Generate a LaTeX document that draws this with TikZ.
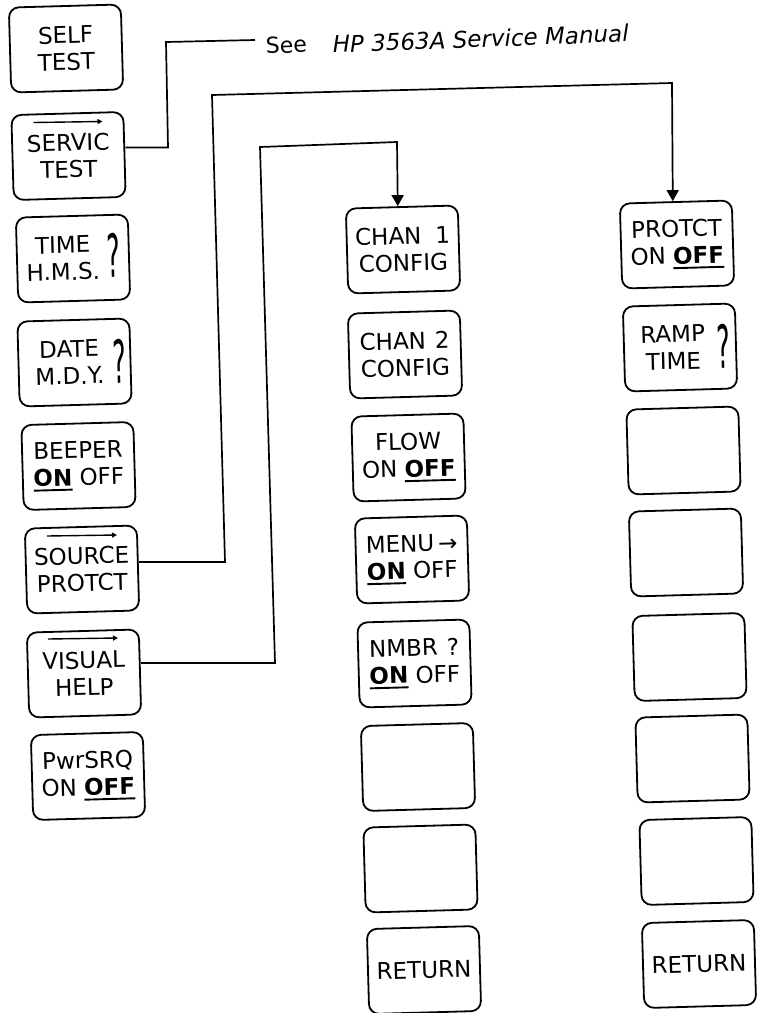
\documentclass[tikz,border=0pt]{standalone}
\usepackage{fontspec}
\usepackage{graphicx}
\setmainfont{DejaVu Sans}
\usetikzlibrary{arrows.meta,calc}
\newsavebox\ulbbox
\newcommand\ulb[1]{\sbox\ulbbox{\bfseries #1}\rlap{\rule[-5pt]{\wd\ulbbox}{1.9pt}}\usebox\ulbbox}
\newcommand\bigq{\scalebox{0.7}[1.65]{\fontsize{36}{36}\selectfont ?}}
\begin{document}
\begin{tikzpicture}[x=1pt,y=1pt,
  btn/.style={draw, line width=1.8pt, rounded corners=10pt, minimum width=112pt,
    minimum height=85pt, rotate=1.6, font=\fontsize{23}{27}\selectfont,
    align=center, inner sep=0pt},
  txt/.style={rotate=1.6, font=\fontsize{23}{27}\selectfont, align=center, inner sep=0pt},
  wire/.style={line width=1.7pt},
  tip/.style={-{Triangle[length=11pt,width=12pt]}},
  mini/.style={line width=1.4pt, -{Triangle[length=5pt,width=5pt]}}]
\useasboundingbox (0,0) rectangle (757,-1013);

% left column
\node[btn] (self)   at (66,-48.5)   {SELF\\TEST};
\node[btn] (servic) at (68.5,-156)  {SERVIC\\TEST};
\node[btn] (time)   at (73,-258.5)  {};
\node[txt] (timet)  at ($(time.center)+(-10,0)$) {TIME\\H.M.S.};
\node[txt] (timeq)  at ($(time.center)+(41,3)$) {\bigq};
\node[btn] (date)   at (74.5,-362.5) {};
\node[txt] (datet)  at ($(date.center)+(-5,0)$) {DATE\\M.D.Y.};
\node[txt] (dateq)  at ($(date.center)+(45,1)$) {\bigq};
\node[btn] (beeper) at (78.5,-466)  {BEEPER\\\ulb{ON} OFF};
\node[btn] (source) at (82,-569.5)  {SOURCE\\PROTCT};
\node[btn] (visual) at (84,-673.5)  {VISUAL\\HELP};
\node[btn] (pwrsrq) at (88,-776)    {PwrSRQ\\ON \ulb{OFF}};

\draw[mini] ($(servic.center)+(-35,33.5)$) -- ($(servic.center)+(34,34.5)$);
\draw[mini] ($(source.center)+(-35,33.5)$) -- ($(source.center)+(35,34.5)$);
\draw[mini] ($(visual.center)+(-36,34.5)$) -- ($(visual.center)+(34,35.5)$);

% middle column
\node[btn] (chan1) at (403,-249.5) {CHAN\hspace{14pt}1\\CONFIG};
\node[btn] (chan2) at (405,-354.5) {CHAN\hspace{9pt}2\\CONFIG};
\node[btn] (flow)  at (408.5,-457.5) {FLOW\\ON \ulb{OFF}};
\node[btn] (menu)  at (412,-559.5) {MENU\,→\\\ulb{ON} OFF};
\node[btn] (nmbr)  at (414.5,-663.5) {NMBR\hspace{9pt}?\\\ulb{ON} OFF};
\node[btn] (m6)    at (418,-767) {};
\node[btn] (m7)    at (420.5,-868.5) {};
\node[btn] (mret)  at (424,-970) {RETURN};

% right column
\node[btn] (protct) at (677,-244.5) {PROTCT\\ON \ulb{OFF}};
\node[btn] (ramp)   at (680,-347.5) {};
\node[txt] (rampt)  at ($(ramp.center)+(-7,0)$) {RAMP\\TIME};
\node[txt] (rampq)  at ($(ramp.center)+(44,1)$) {\bigq};
\node[btn] (r3) at (683.5,-450.5) {};
\node[btn] (r4) at (686,-552.5) {};
\node[btn] (r5) at (689.5,-657) {};
\node[btn] (r6) at (692.5,-758.5) {};
\node[btn] (r7) at (696.5,-861) {};
\node[btn] (rret) at (699,-964) {RETURN};

% reference text
\node[anchor=base west, font=\fontsize{22}{22}\selectfont, rotate=2.2, inner sep=0pt] (see) at (266,-54) {See};
\node[anchor=base west, font=\fontsize{23}{23}\selectfont\itshape, rotate=2.2, inner sep=0pt] (man) at (333,-53) {HP 3563A Service Manual};

% connectors
\coordinate (s1) at (168,-147.5);
\coordinate (s2) at (166,-42);
\coordinate (seeend) at (255,-40);
\draw[wire] ($(servic.east)+(0,7)$) -- (s1) -- (s2) -- (seeend);

\coordinate (p1) at (225,-562);
\coordinate (p2) at (212,-95);
\coordinate (p3) at (672,-83);
\draw[wire,tip] ($(source.east)+(0,6)$) -- (p1) -- (p2) -- (p3) -- ($(protct.north)+(-3,0)$);

\coordinate (v1) at (275,-663);
\coordinate (v2) at (260,-147);
\coordinate (v3) at (397,-142);
\draw[wire,tip] ($(visual.east)+(0,9)$) -- (v1) -- (v2) -- (v3) -- ($(chan1.north)+(-4,0)$);
\end{tikzpicture}
\end{document}
